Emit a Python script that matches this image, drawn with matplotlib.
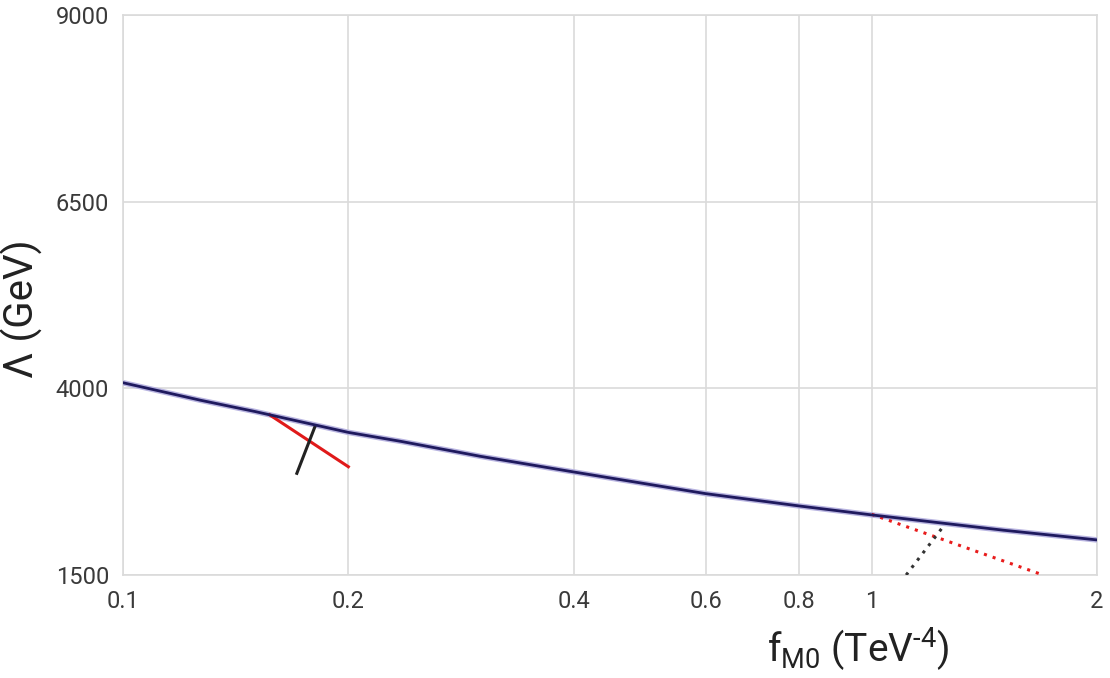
import matplotlib
matplotlib.use("Agg")
import matplotlib.pyplot as plt

plt.rcParams['font.family'] = ['Roboto', 'DejaVu Sans']
plt.rcParams['mathtext.fontset'] = 'custom'
plt.rcParams['mathtext.rm'] = 'Roboto'
plt.rcParams['mathtext.it'] = 'Roboto'

# unitarity bound curve
f_curve = [0.1, 0.127, 0.15, 0.2, 0.235, 0.3, 0.4, 0.6, 0.8, 1.0, 1.5, 2.0]
lam_curve = [4075, 3840, 3690, 3410, 3290, 3090, 2880, 2590, 2425, 2305, 2100, 1970]

# short solid segments
f_red = [0.157, 0.2]
lam_red = [3645, 2950]
f_black = [0.1707, 0.1806]
lam_black = [2862, 3495]

# dotted segments
f_red_dot = [1.0, 1.70]
lam_red_dot = [2313, 1495]
f_black_dot = [1.112, 1.254]
lam_black_dot = [1500, 2185]

xticks = [0.1, 0.2, 0.4, 0.6, 0.8, 1, 2]
xticklabels = ['0.1', '0.2', '0.4', '0.6', '0.8', '1', '2']
yticks = [1500, 4000, 6500, 9000]

fig = plt.figure(figsize=(11.1, 6.78), dpi=100)
ax = fig.add_axes([0.1108, 0.1519, 0.8775, 0.826])

grid_c = '#dadada'
ax.plot(f_curve, lam_curve, color='#b8b4e0', lw=4.0, solid_capstyle='butt', zorder=3)
ax.plot(f_curve, lam_curve, color='#1f1a5e', lw=2.0, zorder=4)
ax.plot(f_red, lam_red, color='#e01a1a', lw=2.2, zorder=3)
ax.plot(f_black, lam_black, color='#222222', lw=2.2, zorder=3)
ax.plot(f_red_dot, lam_red_dot, color='#e81c1c', lw=2.2, ls=(0, (1, 2)), zorder=3)
ax.plot(f_black_dot, lam_black_dot, color='#333333', lw=2.2, ls=(0, (1, 2)), zorder=3)

ax.set_xscale('log')
ax.set_xlim(0.1, 2)
ax.set_ylim(1500, 9000)
ax.set_xticks(xticks)
ax.set_xticklabels(xticklabels)
ax.minorticks_off()
ax.set_yticks(yticks)
ax.grid(True, color=grid_c, lw=1.2)
for s in ax.spines.values():
    s.set_color(grid_c)
    s.set_linewidth(1.2)
ax.tick_params(axis='both', length=0, labelsize=17, labelcolor='#3a3a3a')
ax.tick_params(axis='x', pad=11)
ax.tick_params(axis='y', pad=10)

fig.text(0.020, 0.545, 'Λ (GeV)', rotation=90, ha='center', va='center',
         fontsize=29, color='#222222')
fig.text(0.773, 0.042, 'f$_{\\mathrm{M0}}$ (TeV$^{\\mathrm{\u20104}}$)', ha='center', va='center',
         fontsize=28, color='#222222')

fig.savefig('out.png', dpi=100)
